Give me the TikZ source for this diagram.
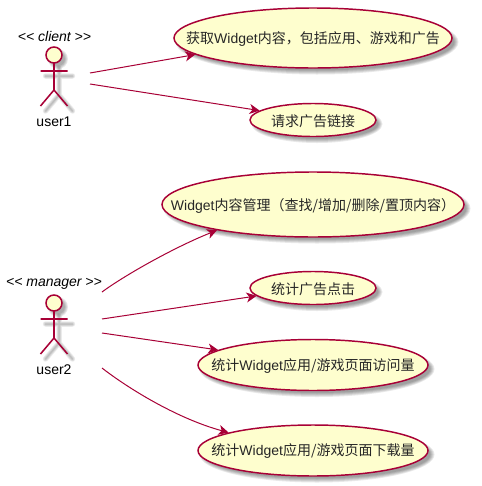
\documentclass[tikz,border=0pt]{standalone}
\usepackage{fontspec}
\setmainfont{Liberation Sans}
\newfontfamily\cjk{Noto Sans CJK SC}
\newcommand{\lat}[1]{{\rmfamily #1}}
\usetikzlibrary{arrows.meta,shapes.geometric}
\definecolor{umlred}{HTML}{A80036}
\definecolor{umlfill}{HTML}{FEFECE}
\tikzset{
  x=0.75pt,y=-0.75pt,
  usecase/.style={ellipse,draw=umlred,fill=umlfill,line width=1.1pt,inner sep=0},
  flow/.style={draw=umlred,line width=0.75pt,-{Stealth[length=7.5pt,width=7.5pt,inset=2.2pt]}},
  casetext/.style={font=\fontsize{10.5pt}{12pt}\selectfont,text=black!85,inner sep=0},
  actortext/.style={font=\fontsize{10.5pt}{12pt}\selectfont,text=black,inner sep=0},
  stereotext/.style={font=\fontsize{10.5pt}{12pt}\selectfont\itshape,text=black,inner sep=0},
  actorline/.style={draw=umlred,line width=1.15pt},
  blur/.style={draw=black,opacity=0.07,line cap=round},
}
\newcommand{\usecasenode}[6]{% name, cx, cy, w, h, text
  \foreach \g in {-1.5,-0.5,0.5,1.5,2.5}{
    \fill[black,opacity=0.085] (#2+4,#3+4) ellipse [x radius=#4/2+\g,y radius=#5/2+\g];
  }
  \node[usecase,minimum width=#4*0.75pt,minimum height=#5*0.75pt] (#1) at (#2,#3) {};
  \node[casetext] (#1t) at (#2,#3+1) {\cjk #6};
}
\newcommand{\actorfig}[2]{% head x, head y
  \begin{scope}[shift={(#1,#2)}]
    \foreach \w in {1,2.5,4,5.5}{
      \draw[blur,line width=\w*0.75pt] (5,13) -- (5,40) (-8.5,21) -- (18.5,21) (5,40) -- (-8.5,56) (5,40) -- (18.5,56);
    }
    \foreach \g in {-1,0,1,2}{
      \fill[black,opacity=0.09] (4,4) circle ({8+\g});
    }
    \draw[actorline,fill=umlfill] (0,0) circle (8);
    \draw[actorline] (0,8) -- (0,35) (-13.5,16) -- (13.5,16) (0,35) -- (-13.5,51) (0,35) -- (13.5,51);
  \end{scope}
}
\begin{document}
\begin{tikzpicture}
\useasboundingbox (0,0) rectangle (482,486);
\fill[white] (0,0) rectangle (482,486);
\actorfig{54}{55}
\actorfig{54}{303}
\node[stereotext] (s1) at (54.5,36) {<{}< client >{}>};
\node[stereotext] (s2) at (54,284) {<{}< manager >{}>};
\node[actortext] (n1) at (54,122) {user1};
\node[actortext] (n2) at (54,370) {user2};
\coordinate (a1) at (90,73);
\coordinate (a2) at (90,84);
\coordinate (b1) at (102,292);
\coordinate (b2) at (102,319);
\coordinate (b3) at (102,333);
\coordinate (b4) at (102,368);
\usecasenode{e1}{313}{38}{278}{60}{获取\lat{Widget}内容，包括应用、游戏和广告}
\usecasenode{e2}{313}{120}{126}{33}{请求广告链接}
\usecasenode{e3}{313}{204.5}{302}{65}{\lat{Widget}内容管理（查找/增加/删除/置顶内容）}
\usecasenode{e4}{313}{288}{126}{33}{统计广告点击}
\usecasenode{e5}{313}{365}{230}{51}{统计\lat{Widget}应用/游戏页面访问量}
\usecasenode{e6}{313}{450.5}{230}{51}{统计\lat{Widget}应用/游戏页面下载量}
\draw[flow] (a1) -- (e1.188.6);
\draw[flow] (a2) -- (e2.170.2);
\draw[flow] (b1) .. controls (125,275) and (175,247) .. (e3.195.6);
\draw[flow] (b2) -- (e4.188.1);
\draw[flow] (b3) -- (e5.171.7);
\draw[flow] (b4) .. controls (125,386) and (175,418) .. (e6.168.2);
\end{tikzpicture}
\end{document}
